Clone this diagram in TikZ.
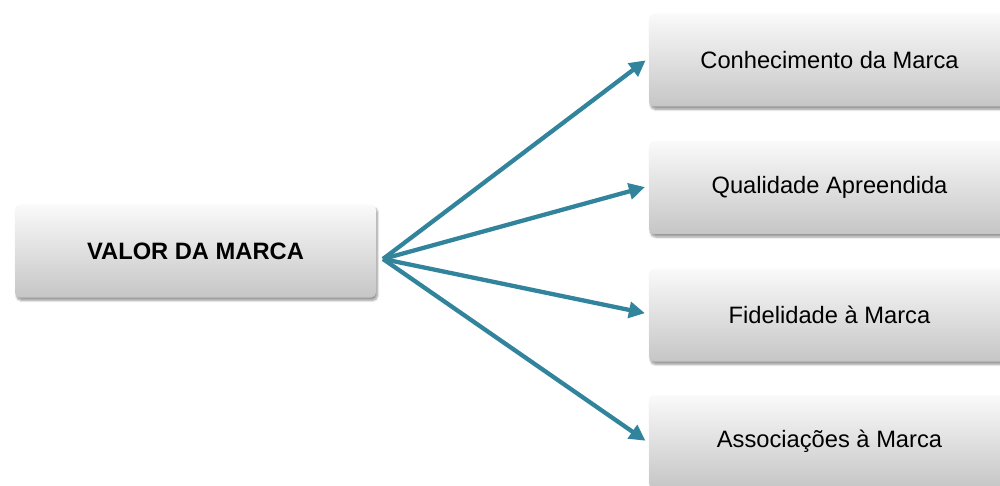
\documentclass[tikz,border=0pt]{standalone}
\usepackage{fontspec}
\setmainfont{Liberation Sans}
\usetikzlibrary{shadows.blur,arrows.meta}
\definecolor{arrowteal}{HTML}{31849B}
\begin{document}
\begin{tikzpicture}[x=1pt,y=-1pt,
  box/.style={rounded corners=5pt, minimum width=361pt, minimum height=93pt,
    top color=gray!4, bottom color=gray!45, draw=none,
    blur shadow={shadow xshift=1.5pt, shadow yshift=-3pt, shadow blur steps=6, shadow opacity=40},
    font=\fontsize{23.7}{26}\selectfont, inner sep=0pt},
  link/.style={draw=arrowteal, line width=4.3pt, -{Triangle[length=16pt,width=16pt]}, shorten >=4pt}]
\useasboundingbox (0,0) rectangle (1000,486);
\node[box, font=\fontsize{23.7}{26}\selectfont\bfseries] (v) at (195.5,251) {VALOR DA MARCA};
\node[box] (c) at (829.5,60) {Conhecimento da Marca};
\node[box] (q) at (829.5,187.5) {Qualidade Apreendida};
\node[box] (f) at (829.5,315) {Fidelidade à Marca};
\node[box] (a) at (829.5,441.5) {Associações à Marca};
\coordinate (hub) at (383,259);
\draw[link] (hub) -- (c.west |- 0,58);
\draw[link] (hub) -- (q.west |- 0,186);
\draw[link] (hub) -- (f.west |- 0,314);
\draw[link] (hub) -- (a.west |- 0,443);
\end{tikzpicture}
\end{document}
